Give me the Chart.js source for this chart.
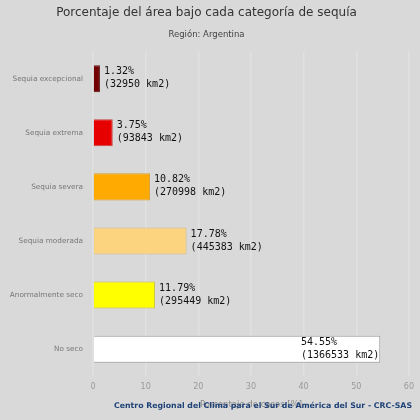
<!DOCTYPE html>
<html>
<head>
<meta charset="utf-8">
<script src="https://cdn.jsdelivr.net/npm/chart.js@4"></script>
<style>
  html, body { margin: 0; padding: 0; background: #d9d9d9; }
  #wrap { width: 420px; height: 420px; }
</style>
</head>
<body>
<div id="wrap"><canvas id="chart" width="420" height="420"></canvas></div>
<script>
const categories = ['Sequia excepcional', 'Sequia extrema', 'Sequia severa', 'Sequia moderada', 'Anormalmente seco', 'No seco']
const percents = [1.32, 3.75, 10.82, 17.78, 11.79, 54.55]
const areas = [32950, 93843, 270998, 445383, 295449, 1366533]
const barColors = ['#730000', '#e60000', '#ffaa00', '#fcd37f', '#ffff00', '#ffffff']
const borderColors = ['#5a1a1a', '#c84040', '#d9a030', '#d8b878', '#c8c040', '#a0a0a0']
const xTicks = [0, 10, 20, 30, 40, 50, 60]

// labels next to each bar, inside when it would not fit
const barLabels = {
  id: 'barLabels',
  afterDatasetsDraw (chart) {
    const ctx = chart.ctx
    const meta = chart.getDatasetMeta(0)
    const area = chart.chartArea
    ctx.save()
    ctx.font = '10px "DejaVu Sans Mono"'
    ctx.fillStyle = '#111'
    ctx.textBaseline = 'middle'
    meta.data.forEach((bar, i) => {
      const lines = [percents[i].toFixed(2) + '%', '(' + areas[i] + ' km2)']
      const w = Math.max(...lines.map(l => ctx.measureText(l).width))
      let x = bar.x + 4
      if (x + w > area.right) x = bar.x - w - 1
      ctx.fillText(lines[0], x, bar.y - 7)
      ctx.fillText(lines[1], x, bar.y + 6)
    })
    ctx.restore()
  }
}

const footer = {
  id: 'footer',
  afterDraw (chart) {
    const ctx = chart.ctx
    ctx.save()
    ctx.font = 'bold 7.8px "DejaVu Sans"'
    ctx.fillStyle = '#1f4277'
    ctx.textAlign = 'right'
    ctx.textBaseline = 'middle'
    ctx.fillText('Centro Regional del Clima para el Sur de América del Sur - CRC-SAS', 412, 406)
    ctx.restore()
  }
}

new Chart(document.getElementById('chart').getContext('2d'), {
  type: 'bar',
  data: {
    labels: categories,
    datasets: [{
      data: percents,
      backgroundColor: barColors,
      borderColor: borderColors,
      borderWidth: 1,
      barPercentage: 0.5,
      categoryPercentage: 1
    }]
  },
  options: {
    indexAxis: 'y',
    responsive: false,
    animation: false,
    layout: { padding: { left: 4, right: 11, bottom: 6, top: 0 } },
    plugins: {
      legend: { display: false },
      tooltip: { enabled: false },
      title: {
        display: true,
        text: 'Porcentaje del área bajo cada categoría de sequía',
        color: '#333',
        font: { family: 'DejaVu Sans', size: 12, weight: 'normal' },
        padding: { top: 6, bottom: 9 }
      },
      subtitle: {
        display: true,
        text: 'Región: Argentina',
        color: '#444',
        font: { family: 'DejaVu Sans', size: 8.5 },
        padding: { bottom: 12 }
      }
    },
    scales: {
      x: {
        min: 0,
        max: 60,
        afterBuildTicks (axis) { axis.ticks = xTicks.map(v => ({ value: v })) },
        grid: { color: '#e1e1e1', lineWidth: 1.5, drawTicks: false },
        border: { display: false },
        ticks: { color: '#999', font: { family: 'DejaVu Sans', size: 8 }, padding: 6 },
        title: {
          display: true,
          text: 'Porcentaje de casos [%]',
          color: '#888',
          font: { family: 'DejaVu Sans', size: 8.5 },
          padding: { top: 2 }
        }
      },
      y: {
        afterFit (axis) { axis.width = 89 },
        grid: { display: false, drawTicks: false },
        border: { display: false },
        ticks: { color: '#777', font: { family: 'DejaVu Sans', size: 7.3 }, padding: 10 }
      }
    }
  },
  plugins: [barLabels, footer]
})
</script>
</body>
</html>
